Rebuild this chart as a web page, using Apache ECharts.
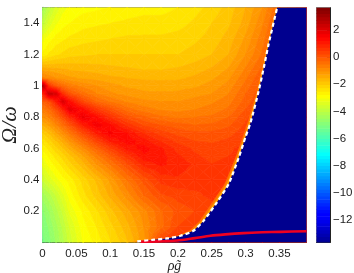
<!DOCTYPE html>
<html><head><meta charset="utf-8">
<style>html,body{margin:0;padding:0;background:#fff}#c{width:354px;height:273px}</style>
<script src="https://cdn.jsdelivr.net/npm/echarts@6/dist/echarts.min.js"></script>
</head><body><div id="c"></div>
<script>
// grid positions (rho g-tilde, Omega/omega)
const xs=[0,.01,.02,.03,.04,.06,.08,.10,.125,.15,.175,.2,.225,.25,.275,.3,.325,.35,.39];
const ys=[0,.1,.2,.3,.4,.5,.55,.6,.65,.7,.75,.8,.85,.9,.95,1,1.05,1.1,1.2,1.3,1.4,1.5];
// values, one row per ys entry
const row000=[-5.1,-4.85,-4.5,-4.1,-3.65,-3,-2.65,-2.3,-1.8,-1.1,.4,.8,.8,.8,.8,.8,.8,.8,.8];
const row010=[-5,-4.7,-4.35,-3.95,-3.5,-2.85,-2.5,-2.1,-1.6,-1,-.35,.25,.4,.4,.4,.4,.4,.4,.4];
const row020=[-4.8,-4.5,-4.1,-3.7,-3.2,-2.7,-2.3,-1.85,-1.35,-.85,-.3,.1,.25,.4,.4,.4,.4,.4,.4];
const row030=[-4.4,-4.1,-3.75,-3.3,-2.9,-2.35,-1.9,-1.45,-.9,-.25,.2,.35,.45,.55,.5,.5,.5,.5,.5];
const row040=[-3.7,-3.4,-3.1,-2.85,-2.65,-2.15,-1.7,-1.2,-.5,.1,.6,.7,.6,.6,.6,.6,.6,.6,.6];
const row050=[-3.2,-2.9,-2.65,-2.4,-2.1,-1.6,-1,-.5,.2,.85,1.05,.9,.7,.5,.6,.6,.6,.6,.6];
const row055=[-3,-2.7,-2.4,-2.15,-1.85,-1.3,-.65,-.1,.6,1.2,1.1,.8,.55,.4,.5,.6,.6,.6,.6];
const row060=[-2.7,-2.4,-2.1,-1.8,-1.45,-.85,-.2,.4,1.1,1.35,1.05,.65,.45,.35,.45,.6,.6,.6,.6];
const row065=[-2.4,-2.1,-1.75,-1.4,-1,-.3,.4,1.05,1.4,1.1,.7,.4,.25,.2,.3,.5,.6,.6,.6];
const row070=[-2,-1.7,-1.3,-.9,-.5,.3,1.05,1.55,1.25,.7,.35,.15,.05,.05,.15,.4,.6,.6,.6];
const row075=[-1.5,-1.2,-.8,-.35,.1,1,1.65,1.3,.65,.2,0,-.15,-.25,-.2,-.05,.3,.5,.6,.6];
const row080=[-1,-.7,-.3,.2,.8,1.8,1.3,.7,.1,-.2,-.45,-.55,-.5,-.45,-.25,.2,.5,.6,.6];
const row085=[-.6,-.3,.2,.9,1.9,1.3,.55,.1,-.4,-.65,-.8,-.85,-.75,-.65,-.45,0,.4,.6,.6];
const row090=[-.1,.2,1,2.1,1.3,.3,-.25,-.55,-.8,-.95,-1,-1,-.9,-.8,-.6,-.15,.3,.6,.6];
const row095=[.8,2.4,2.1,.7,.1,-.4,-.75,-.95,-1.1,-1.2,-1.2,-1.2,-1.1,-1,-.75,-.25,.2,.5,.6];
const row100=[2.8,.6,0,-.35,-.6,-.85,-1,-1.15,-1.3,-1.35,-1.4,-1.35,-1.3,-1.15,-.9,-.4,.1,.4,.6];
const row105=[-.7,-.85,-1,-1.1,-1.2,-1.3,-1.35,-1.45,-1.5,-1.55,-1.55,-1.55,-1.45,-1.3,-1.05,-.55,0,.4,.6];
const row110=[-1.3,-1.35,-1.4,-1.45,-1.5,-1.55,-1.6,-1.65,-1.7,-1.75,-1.75,-1.7,-1.6,-1.45,-1.2,-.7,-.15,.3,.6];
const row120=[-2.7,-2.45,-2.3,-2.2,-2.1,-2.05,-2,-2,-2,-2,-2,-2,-1.9,-1.75,-1.5,-1,-.45,.2,.5];
const row130=[-3.1,-2.85,-2.65,-2.55,-2.45,-2.35,-2.3,-2.25,-2.2,-2.2,-2.2,-2.15,-2.05,-1.9,-1.65,-1.2,-.6,.1,.5];
const row140=[-3.9,-3.4,-3.05,-2.85,-2.75,-2.6,-2.55,-2.5,-2.45,-2.4,-2.4,-2.35,-2.2,-2,-1.8,-1.4,-.8,0,.5];
const row150=[-4.4,-3.9,-3.45,-3.1,-2.95,-2.85,-2.8,-2.75,-2.65,-2.6,-2.6,-2.5,-2.35,-2.15,-1.9,-1.5,-1,-.2,.5];
const field=[row000,row010,row020,row030,row040,row050,row055,row060,row065,row070,row075,row080,row085,row090,row095,row100,row105,row110,row120,row130,row140,row150];
// white dashed boundary
const boundaryX=[.14,.165,.184,.204,.223,.238,.258,.275,.29,.2998,.3075,.319,.328,.334,.3467];
const boundaryY=[.007,.018,.026,.043,.075,.138,.258,.373,.543,.672,.768,.96,1.138,1.266,1.5];
// thin lighter bands hugging the boundary on its inner side
const edgeOuterX=[.132,.158,.178,.198,.217,.232,.251,.269,.285,.2955,.303,.316,.325,.331,.344];
const edgeInnerX=[.136,.162,.181,.201,.22,.235,.2545,.272,.2875,.2978,.3053,.3175,.3265,.3325,.3455];
const edgeOuterValue=-.4, edgeInnerValue=-1.3, blueValue=-13.7;
// red curve
const redX=[.145,.17,.199,.225,.248,.27,.297,.325,.352,.39];
const redY=[.005,.007,.0125,.028,.043,.052,.06,.065,.068,.072];
// axes
const xTicks=[0,.05,.1,.15,.2,.25,.3,.35];
const yTicks=[.2,.4,.6,.8,1,1.2,1.4];
const cbTicks=[-12,-10,-8,-6,-4,-2,0,2];
const cMin=-13.7,cMax=3.68,bandStep=.25;

const clamp=v=>Math.max(0,Math.min(1,v));
function jet(v){const t=(v-cMin)/(cMax-cMin);
  const r=clamp(Math.min(4*t-1.5,-4*t+4.5)),g=clamp(Math.min(4*t-.5,-4*t+3.5)),b=clamp(Math.min(4*t+.56,-4*t+2.5));
  return 'rgb('+[r,g,b].map(c=>Math.round(c*255)).join(',')+')';}
function clip(poly,level,keepAbove){const out=[];
  for(let i=0;i<poly.length;i++){const a=poly[i],b=poly[(i+1)%poly.length];
    const ia=keepAbove?a[2]>=level:a[2]<=level, ib=keepAbove?b[2]>=level:b[2]<=level;
    if(ia)out.push(a);
    if(ia!==ib){const t=(level-a[2])/(b[2]-a[2]);out.push([a[0]+t*(b[0]-a[0]),a[1]+t*(b[1]-a[1]),level]);}
  }return out;}
function triBands(tri,out){
  const vs=tri.map(p=>p[2]),lo=Math.floor(Math.min(...vs)/bandStep),hi=Math.floor(Math.max(...vs)/bandStep);
  for(let k=lo;k<=hi;k++){let p=clip(tri,k*bandStep,true);if(p.length>2)p=clip(p,(k+1)*bandStep,false);
    if(p.length>2){const col=jet((k+.5)*bandStep);
      out.push({type:'polygon',shape:{points:p.map(q=>[q[0],q[1]])},style:{fill:col,stroke:col,lineWidth:.7}});}}
}
const cells=[];for(let j=0;j<ys.length-1;j++)for(let i=0;i<xs.length-1;i++)cells.push([i,j]);
const cbBands=[];for(let k=Math.floor(cMin/bandStep);k*bandStep<cMax;k++)cbBands.push(k*bandStep);

function fieldItem(params,api){const i=api.value(0),j=api.value(1);
  const P=(a,b)=>{const c=api.coord([xs[a],ys[b]]);return [c[0],c[1],field[b][a]];};
  const p00=P(i,j),p10=P(i+1,j),p11=P(i+1,j+1),p01=P(i,j+1),ch=[];
  const cen=[(p00[0]+p11[0])/2,(p00[1]+p11[1])/2,(p00[2]+p10[2]+p11[2]+p01[2])/4];
  triBands([p00,p10,cen],ch);triBands([p10,p11,cen],ch);triBands([p11,p01,cen],ch);triBands([p01,p00,cen],ch);
  return {type:'group',children:ch};}
function ribbon(xa,xb,val){return function(params,api){
  const pts=[];xa.forEach((x,k)=>pts.push(api.coord([x,boundaryY[k]])));
  for(let k=boundaryY.length-1;k>=0;k--)pts.push(api.coord([xb[k],boundaryY[k]]));
  const col=jet(val);return {type:'polygon',shape:{points:pts},style:{fill:col}};};}
function blueItem(params,api){
  const pts=boundaryX.map((x,k)=>api.coord([x,boundaryY[k]]));
  pts.push(api.coord([.39,1.5]),api.coord([.39,0]),api.coord([boundaryX[0],0]));
  return {type:'polygon',shape:{points:pts},style:{fill:jet(blueValue)}};}
function cbItem(params,api){const v=api.value(1);
  const a=api.coord([0,Math.max(v,cMin)]),b=api.coord([1,Math.min(v+bandStep,cMax)]);
  return {type:'rect',shape:{x:a[0],y:b[1],width:b[0]-a[0],height:a[1]-b[1]+.6},style:{fill:jet(v+bandStep/2)}};}

const tick={show:true,inside:true,length:3,lineStyle:{color:'#444',width:1}};
const font={fontFamily:'Liberation Sans',fontSize:11.5,color:'#222'};
const one={gridIndex:0,min:0,max:.39};
const oneY={gridIndex:0,min:0,max:1.5};
const line=c=>({show:true,onZero:false,lineStyle:{color:c,width:1}});
const chart=echarts.init(document.getElementById('c'),null,{renderer:'canvas'});
chart.setOption({animation:false,backgroundColor:'#fff',
 grid:[{left:42.5,top:7.5,width:264,height:235,outerBoundsMode:'none',containLabel:false},{left:316.5,top:7.5,width:13.5,height:235,outerBoundsMode:'none',containLabel:false}],
 xAxis:[
  {...one,type:'value',position:'bottom',axisLine:line('#333'),axisTick:{...tick,customValues:xTicks},splitLine:{show:false},
   axisLabel:{...font,margin:5,customValues:xTicks,formatter:v=>String(+v.toFixed(2))},
   name:'ρg\u0303',nameLocation:'middle',nameGap:17,nameMoveOverlap:false,nameTextStyle:{fontFamily:'Liberation Serif',fontStyle:'italic',fontSize:14,color:'#222'}},
  {...one,type:'value',position:'top',axisLine:line('#888'),axisTick:{...tick,customValues:xTicks},axisLabel:{show:false},splitLine:{show:false}},
  {gridIndex:1,type:'value',min:0,max:1,position:'bottom',show:true,axisLine:line('#333'),axisTick:{show:false},axisLabel:{show:false},splitLine:{show:false}},
  {gridIndex:1,type:'value',min:0,max:1,position:'top',show:true,axisLine:line('#888'),axisTick:{show:false},axisLabel:{show:false},splitLine:{show:false}}
 ],
 yAxis:[
  {...oneY,type:'value',position:'left',axisLine:{...line('#888'),lineStyle:{color:'#888',width:1.5}},axisTick:{...tick,customValues:yTicks},splitLine:{show:false},
   axisLabel:{...font,margin:3,customValues:yTicks,formatter:v=>String(+v.toFixed(1))},
   name:'Ω/ω',nameLocation:'middle',nameGap:21,nameMoveOverlap:false,nameRotate:90,nameTextStyle:{fontFamily:'Liberation Serif',fontStyle:'italic',fontSize:22,color:'#222'}},
  {...oneY,type:'value',position:'right',axisLine:line('#888'),axisTick:{...tick,customValues:yTicks},axisLabel:{show:false},splitLine:{show:false}},
  {gridIndex:1,type:'value',min:cMin,max:cMax,position:'left',axisLine:line('#888'),axisTick:{show:false},axisLabel:{show:false},splitLine:{show:false}},
  {gridIndex:1,type:'value',min:cMin,max:cMax,position:'right',axisLine:line('#222'),axisTick:{...tick,customValues:cbTicks},splitLine:{show:false},
   axisLabel:{...font,margin:3,customValues:cbTicks,formatter:v=>String(v).replace('-','\u2212')}}
 ],
 series:[
  {type:'custom',name:'field',coordinateSystem:'cartesian2d',xAxisIndex:0,yAxisIndex:0,clip:true,silent:true,z:1,data:cells,renderItem:fieldItem},
  {type:'custom',name:'edge outer',coordinateSystem:'cartesian2d',xAxisIndex:0,yAxisIndex:0,clip:true,silent:true,z:2,data:[[0,0]],renderItem:ribbon(edgeOuterX,boundaryX,edgeOuterValue)},
  {type:'custom',name:'edge inner',coordinateSystem:'cartesian2d',xAxisIndex:0,yAxisIndex:0,clip:true,silent:true,z:3,data:[[0,0]],renderItem:ribbon(edgeInnerX,boundaryX,edgeInnerValue)},
  {type:'custom',name:'blue',coordinateSystem:'cartesian2d',xAxisIndex:0,yAxisIndex:0,clip:true,silent:true,z:4,data:[[0,0]],renderItem:blueItem},
  {type:'line',name:'red',xAxisIndex:0,yAxisIndex:0,data:redX.map((x,k)=>[x,redY[k]]),showSymbol:false,smooth:.3,lineStyle:{color:'#f00020',width:2.6},z:5,silent:true},
  {type:'line',name:'boundary',xAxisIndex:0,yAxisIndex:0,data:boundaryX.map((x,k)=>[x,boundaryY[k]]),showSymbol:false,smooth:.2,lineStyle:{color:'#fff',width:2.2,type:[4,3]},z:6,silent:true},
  {type:'custom',name:'colorbar',coordinateSystem:'cartesian2d',xAxisIndex:2,yAxisIndex:2,clip:true,silent:true,z:1,data:cbBands.map(v=>[0,v]),renderItem:cbItem}
 ]});
</script></body></html>
